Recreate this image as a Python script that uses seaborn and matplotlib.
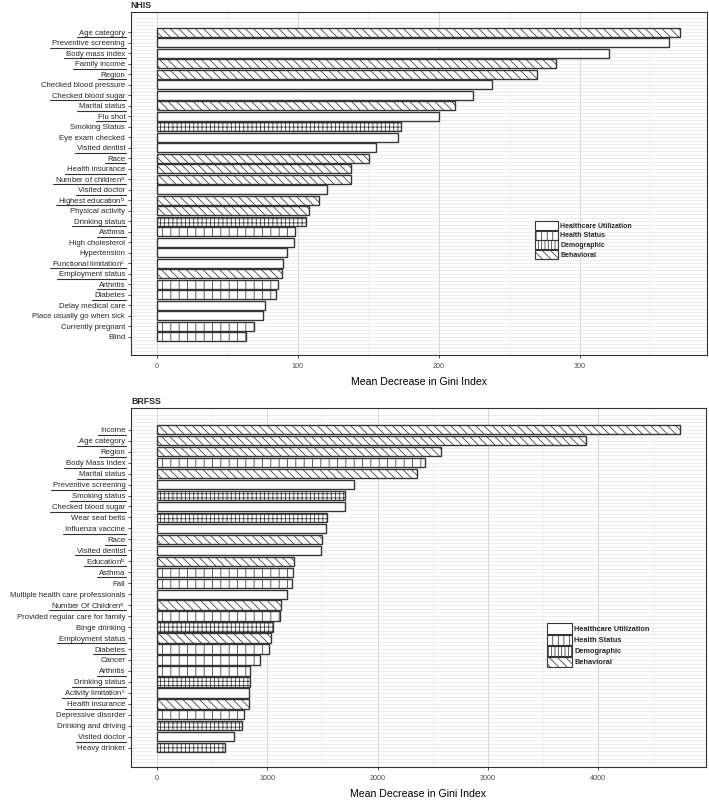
import numpy as np
import pandas as pd
import matplotlib
matplotlib.use("Agg")
import matplotlib.pyplot as plt
import matplotlib.transforms as mtransforms
import seaborn as sns
from matplotlib.patches import Patch
from matplotlib.lines import Line2D

# ---------------- data ----------------
nhis_features = ["Age category", "Preventive screening", "Body mass index", "Family income",
                 "Region", "Checked blood pressure", "Checked blood sugar", "Marital status",
                 "Flu shot", "Smoking Status", "Eye exam checked", "Visited dentist", "Race",
                 "Health insurance", "Number of children", "Visited doctor", "Highest education",
                 "Physical activity", "Drinking status", "Asthma", "High cholesterol",
                 "Hypertension", "Functional limitation", "Employment status", "Arthritis",
                 "Diabetes", "Delay medical care", "Place usually go when sick",
                 "Currently pregnant", "Blind"]
nhis_values = [371.4, 363.2, 320.6, 283.2, 269.9, 237.6, 224.2, 211.8, 200.5, 173.5,
               171.4, 155.6, 150.6, 137.6, 137.4, 121.0, 115.1, 107.8, 105.9, 98.1,
               97.4, 92.4, 89.6, 89.1, 85.8, 84.6, 76.6, 75.2, 69.0, 63.4]
nhis_groups = ["Behavioral", "Healthcare Utilization", "Healthcare Utilization", "Behavioral",
               "Behavioral", "Healthcare Utilization", "Healthcare Utilization", "Behavioral",
               "Healthcare Utilization", "Demographic", "Healthcare Utilization",
               "Healthcare Utilization", "Behavioral", "Behavioral", "Behavioral",
               "Healthcare Utilization", "Behavioral", "Behavioral", "Demographic",
               "Health Status", "Healthcare Utilization", "Healthcare Utilization",
               "Healthcare Utilization", "Behavioral", "Health Status", "Health Status",
               "Healthcare Utilization", "Healthcare Utilization", "Health Status",
               "Health Status"]
nhis_superscripts = ["", "", "", "", "", "", "", "", "", "", "", "", "", "", "a", "",
                     "b", "", "", "", "", "", "c", "", "", "", "", "", "", ""]
nhis_underlined = [True, True, True, True, True, False, True, True, True, False, False,
                   True, True, True, True, True, True, False, True, True, False, False,
                   True, True, True, True, False, False, False, False]

brfss_features = ["Income", "Age category", "Region", "Body Mass Index", "Marital status",
                  "Preventive screening", "Smoking status", "Checked blood sugar",
                  "Wear seat belts", "Influenza vaccine", "Race", "Visited dentist",
                  "Education", "Asthma", "Fall", "Multiple health care professionals",
                  "Number Of Children", "Provided regular care for family", "Binge drinking",
                  "Employment status", "Diabetes", "Cancer", "Arthritis", "Drinking status",
                  "Activity limitation", "Health insurance", "Depressive disorder",
                  "Drinking and driving", "Visited doctor", "Heavy drinker"]
brfss_values = [4742, 3889, 2574, 2434, 2361, 1787, 1705, 1700, 1537, 1535,
                1496, 1488, 1242, 1234, 1225, 1176, 1127, 1111, 1053, 1037,
                1016, 930, 840, 838, 836, 834, 791, 766, 701, 619]
brfss_groups = ["Behavioral", "Behavioral", "Behavioral", "Health Status", "Behavioral",
                "Healthcare Utilization", "Demographic", "Healthcare Utilization",
                "Demographic", "Healthcare Utilization", "Behavioral",
                "Healthcare Utilization", "Behavioral", "Health Status", "Health Status",
                "Healthcare Utilization", "Behavioral", "Health Status", "Demographic",
                "Behavioral", "Health Status", "Health Status", "Health Status",
                "Demographic", "Healthcare Utilization", "Behavioral", "Health Status",
                "Demographic", "Healthcare Utilization", "Demographic"]
brfss_superscripts = ["", "", "", "", "", "", "", "", "", "", "", "", "b", "", "", "",
                      "a", "", "", "", "", "", "", "", "c", "", "", "", "", ""]
brfss_underlined = [True, True, True, True, True, True, True, True, False, True, True,
                    True, True, True, False, False, True, False, False, True, True, False,
                    True, True, True, True, False, False, True, False]

legend_order = ["Healthcare Utilization", "Health Status", "Demographic", "Behavioral"]

# ---------------- style ----------------
sns.set_style("white")
plt.rcParams["font.family"] = ["Liberation Sans", "DejaVu Sans"]
plt.rcParams["mathtext.default"] = "regular"
plt.rcParams["hatch.linewidth"] = 0.55

bar_hatch = {"Healthcare Utilization": "", "Health Status": "||",
             "Demographic": "++++", "Behavioral": "\\\\\\\\"}
legend_hatch = {"Healthcare Utilization": "", "Health Status": "|||",
                "Demographic": "|||||", "Behavioral": "\\\\\\\\"}
EDGE = "#353535"
YFS = 5.6          # y tick label size
TICK_LEN, TICK_PAD = 2.5, 1.5

W, H = 709, 800
fig = plt.figure(figsize=(W / 100, H / 100), dpi=100)


def px_axes(l, t, r, b):
    return fig.add_axes([l / W, 1 - b / H, (r - l) / W, (b - t) / H])


def make_labels(feats, sups):
    return [f + (r"$^{%s}$" % s if s else "") for f, s in zip(feats, sups)]


def panel(ax, title, feats, vals, groups, sups, ticks, minor, top_pad, bot_pad,
          leg_anchor, leg_fs, leg_hl, leg_hh):
    labels = make_labels(feats, sups)
    df = pd.DataFrame({"feature": labels, "value": vals, "group": groups})
    ax.set_axisbelow(True)
    n = len(df)
    for i in range(n + 2):
        for off in (-1 / 3, 0, 1 / 3):
            ax.axhline(i - 1 + off, color="#e6e6e6", lw=0.5, zorder=0)
    sns.barplot(data=df, x="value", y="feature", orient="h", color="white",
                saturation=1, edgecolor=EDGE, linewidth=1.0, width=0.85, ax=ax,
                zorder=2)
    for p, g in zip(ax.patches, df["group"]):
        p.set_hatch(bar_hatch[g])
    vmax = max(vals)
    ax.set_xlim(-0.05 * vmax, 1.05 * vmax)
    ax.set_ylim(n - 1 + bot_pad, -top_pad)
    ax.set_xticks(ticks)
    ax.set_xticks(minor, minor=True)
    ax.grid(axis="x", which="major", color="#d6d6d6", lw=0.7)
    ax.grid(axis="x", which="minor", color="#ececec", lw=0.5)
    ax.grid(axis="y", visible=False)
    for s in ax.spines.values():
        s.set_visible(True)
        s.set_color("#333333")
        s.set_linewidth(0.8)
    ax.tick_params(axis="y", which="major", length=TICK_LEN, width=0.6, color="#333333",
                   labelsize=YFS, labelcolor="#262626", pad=TICK_PAD, left=True)
    ax.tick_params(axis="x", which="major", length=2.5, width=0.6, color="#333333",
                   labelsize=5.2, labelcolor="#4d4d4d", pad=3, bottom=True)
    ax.tick_params(axis="x", which="minor", length=0)
    ax.set_ylabel("")
    ax.set_xlabel("Mean Decrease in Gini Index", fontsize=7.6, color="black",
                  labelpad=5)
    ax.set_title(title, loc="left", fontsize=6.3, fontweight="bold", pad=3)
    handles = [Patch(facecolor="white", edgecolor=EDGE, lw=0.8, hatch=legend_hatch[g],
                     label=g) for g in legend_order]
    ax.legend(handles=handles, loc="upper left", bbox_to_anchor=leg_anchor,
              frameon=False, handlelength=leg_hl, handleheight=leg_hh,
              labelspacing=0.12, handletextpad=0.3, borderpad=0, borderaxespad=0,
              prop={"weight": "bold", "size": leg_fs})
    return labels


ax1 = px_axes(130.7, 12.3, 706.5, 355)
lab1 = panel(ax1, "NHIS", nhis_features, nhis_values, nhis_groups, nhis_superscripts,
             [0, 100, 200, 300], [50, 150, 250, 350], 1.9, 1.74, (0.702, 0.391),
             5.0, 3.35, 1.58)

ax2 = px_axes(131, 408, 706, 767)
lab2 = panel(ax2, "BRFSS", brfss_features, brfss_values, brfss_groups, brfss_superscripts,
             [0, 1000, 2000, 3000, 4000], [500, 1500, 2500, 3500, 4500], 1.98, 1.76,
             (0.7235, 0.40), 5.35, 3.35, 1.75)

# underlines under selected tick labels
fig.canvas.draw()
renderer = fig.canvas.get_renderer()
for ax, labels, flags in ((ax1, lab1, nhis_underlined), (ax2, lab2, brfss_underlined)):
    ax_left_px = ax.get_position().x0 * W
    right_px = ax_left_px - (TICK_LEN + TICK_PAD) * 100 / 72
    trans = mtransforms.blended_transform_factory(fig.transFigure, ax.transData)
    for i, (lab, flag) in enumerate(zip(labels, flags)):
        if not flag:
            continue
        t = fig.text(0, 0, lab, fontsize=YFS)
        w = t.get_window_extent(renderer).width
        t.remove()
        line = Line2D([(right_px - w - 2) / W, (right_px + 0.5) / W], [i + 0.47, i + 0.47],
                      transform=trans, color="#333333", lw=0.8, clip_on=False)
        fig.add_artist(line)

fig.savefig("out.png", dpi=100)
